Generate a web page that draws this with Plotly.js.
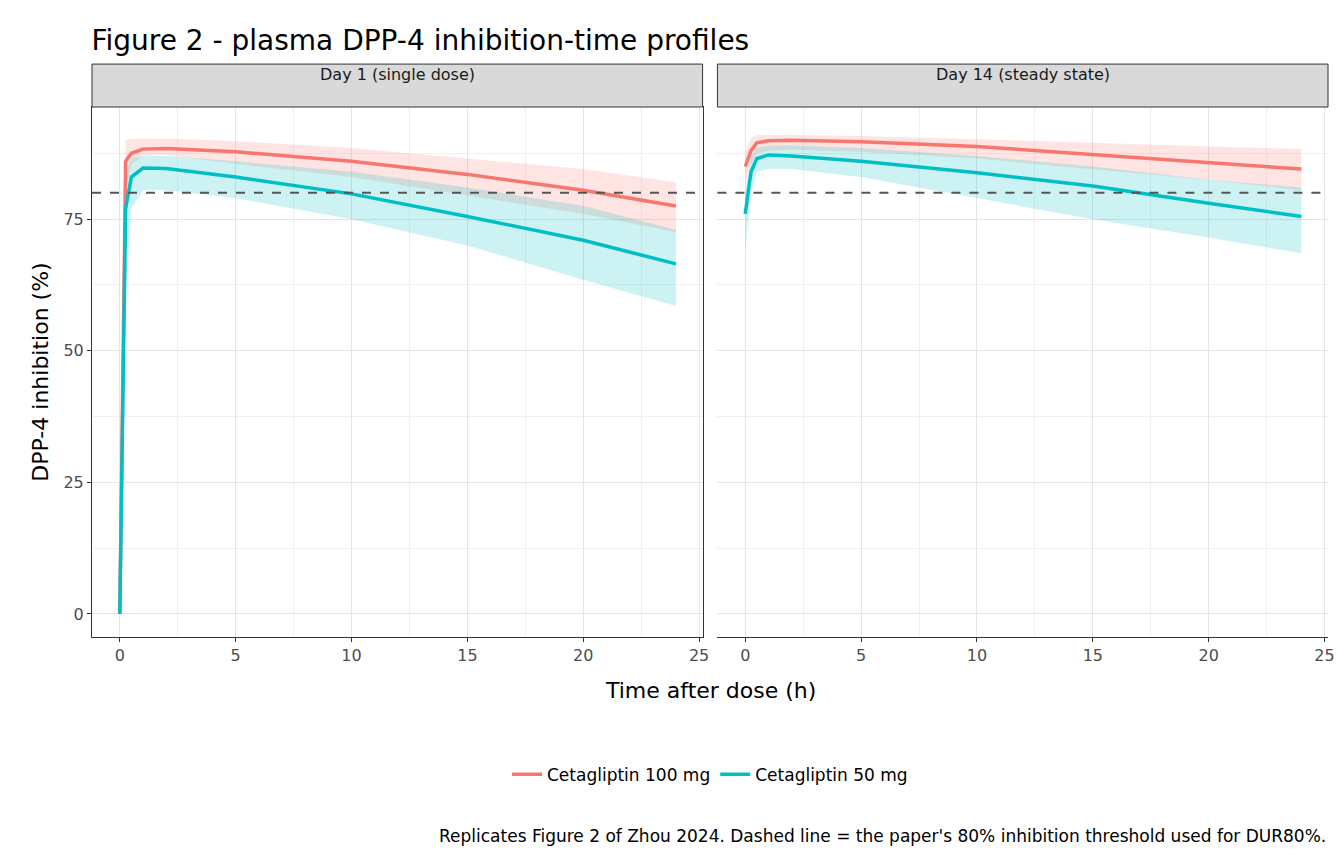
<!DOCTYPE html>
<html>
<head>
<meta charset="utf-8">
<script src="https://cdn.plot.ly/plotly-3.0.1.min.js"></script>
<style>body{margin:0;background:#fff}</style>
</head>
<body>
<div id="myPlot" style="width:1344px;height:864px"></div>
<script>
// time points (h)
const t1 = [0, 0.25, 0.5, 1, 2, 5, 10, 15, 20, 24];
const t14 = [0, 0.25, 0.5, 1, 2, 5, 10, 15, 20, 24];

// Day 1 (single dose)
const d1_100 = [0, 86, 87.5, 88.3, 88.4, 87.8, 86, 83.5, 80.5, 77.5];
const d1_100_lo = [0, 80, 85.5, 87, 87.2, 85.5, 83, 79.5, 76, 72.5];
const d1_100_hi = [0, 90, 90.2, 90.3, 90.3, 89.8, 88.5, 86.5, 84.5, 82];
const d1_50 = [0, 77, 83, 84.7, 84.6, 83, 79.8, 75.5, 71, 66.5];
const d1_50_lo = [0, 60, 77, 80.5, 80.5, 79, 75, 70, 63.5, 58.5];
const d1_50_hi = [0, 84, 86.5, 87, 87, 86, 84, 81, 77.5, 73];

// Day 14 (steady state)
const d14_100 = [85, 88, 89.5, 89.9, 90, 89.7, 88.8, 87.3, 85.8, 84.5];
const d14_100_lo = [82, 85.5, 87.5, 88, 88.2, 87.8, 86.5, 84.5, 82.5, 80.5];
const d14_100_hi = [87.5, 90.5, 91, 91, 91, 90.8, 90.2, 89.5, 88.8, 88.3];
const d14_50 = [76, 84, 86.5, 87.2, 87, 86, 83.8, 81.3, 78, 75.5];
const d14_50_lo = [69, 80, 84, 84.5, 84.5, 83, 79, 75, 71.5, 68.5];
const d14_50_hi = [80, 87, 88.5, 89, 89, 88.5, 87, 85, 82.5, 81];

const red = '#F8766D', cyan = '#00BFC4';

function band(x, lo, hi, col, xa, ya) {
  return [
    {x: x, y: lo, xaxis: xa, yaxis: ya, mode: 'lines', line: {width: 0}, showlegend: false, hoverinfo: 'skip'},
    {x: x, y: hi, xaxis: xa, yaxis: ya, mode: 'lines', line: {width: 0}, fill: 'tonexty', fillcolor: col, showlegend: false, hoverinfo: 'skip'}
  ];
}
function line(x, y, col, name, xa, ya, show) {
  return {x: x, y: y, xaxis: xa, yaxis: ya, mode: 'lines', line: {color: col, width: 3.5}, name: name, showlegend: show, legendgroup: name};
}

const data = [].concat(
  band(t1, d1_100_lo, d1_100_hi, 'rgba(248,118,109,0.2)', 'x', 'y'),
  band(t1, d1_50_lo, d1_50_hi, 'rgba(0,191,196,0.2)', 'x', 'y'),
  band(t14, d14_100_lo, d14_100_hi, 'rgba(248,118,109,0.2)', 'x2', 'y'),
  band(t14, d14_50_lo, d14_50_hi, 'rgba(0,191,196,0.2)', 'x2', 'y'),
  [line(t1, d1_100, red, 'Cetagliptin 100 mg', 'x', 'y', true),
   line(t1, d1_50, cyan, 'Cetagliptin 50 mg', 'x', 'y', true),
   line(t14, d14_100, red, 'Cetagliptin 100 mg', 'x2', 'y', false),
   line(t14, d14_50, cyan, 'Cetagliptin 50 mg', 'x2', 'y', false)]
);

const xax = {
  range: [-1.2, 25.15], tickvals: [0, 5, 10, 15, 20, 25], ticks: 'outside', ticklen: 4, tickcolor: '#333',
  gridcolor: '#E5E5E5', gridwidth: 1.4, zeroline: false, showline: true, linecolor: '#333', mirror: true,
  minor: {tickvals: [2.5, 7.5, 12.5, 17.5, 22.5], showgrid: true, gridcolor: '#F0F0F0', gridwidth: 0.8},
  tickfont: {size: 16, color: '#4D4D4D'}
};

const layout = {
  width: 1344, height: 864,
  margin: {l: 92, r: 16, t: 107, b: 227},
  paper_bgcolor: '#fff', plot_bgcolor: '#fff',
  font: {family: 'DejaVu Sans, sans-serif', color: '#000'},
  title: {text: 'Figure 2 - plasma DPP-4 inhibition-time profiles', x: 0.068, xanchor: 'left', y: 0.965, font: {size: 28}},
  xaxis: Object.assign({}, xax, {domain: [0, 0.494]}),
  xaxis2: Object.assign({}, xax, {domain: [0.506, 1]}),
  yaxis: {
    range: [-4.37, 96.3], tickvals: [0, 25, 50, 75], ticks: 'outside', ticklen: 4, tickcolor: '#333',
    gridcolor: '#E5E5E5', gridwidth: 1.4, zeroline: false, showline: true, linecolor: '#333', mirror: true,
    minor: {tickvals: [12.5, 37.5, 62.5, 87.5], showgrid: true, gridcolor: '#F0F0F0', gridwidth: 0.8},
    tickfont: {size: 16, color: '#4D4D4D'},
    title: {text: 'DPP-4 inhibition (%)', font: {size: 22}, standoff: 8}
  },
  shapes: [
    {type: 'line', xref: 'x domain', yref: 'y', x0: 0, x1: 1, y0: 80, y1: 80, line: {color: '#555', width: 2, dash: 'dash'}},
    {type: 'line', xref: 'x2 domain', yref: 'y', x0: 0, x1: 1, y0: 80, y1: 80, line: {color: '#555', width: 2, dash: 'dash'}},
    {type: 'rect', xref: 'x domain', yref: 'paper', x0: 0, x1: 1, y0: 1, y1: 1.081, fillcolor: '#D9D9D9', line: {color: '#333', width: 1}},
    {type: 'rect', xref: 'x2 domain', yref: 'paper', x0: 0, x1: 1, y0: 1, y1: 1.081, fillcolor: '#D9D9D9', line: {color: '#333', width: 1}}
  ],
  annotations: [
    {text: 'Day 1 (single dose)', xref: 'x domain', yref: 'paper', x: 0.5, y: 1.062, yanchor: 'middle', showarrow: false, font: {size: 16, color: '#1A1A1A'}},
    {text: 'Day 14 (steady state)', xref: 'x2 domain', yref: 'paper', x: 0.5, y: 1.062, yanchor: 'middle', showarrow: false, font: {size: 16, color: '#1A1A1A'}},
    {text: 'Time after dose (h)', xref: 'paper', yref: 'paper', x: 0.5, y: -0.1, yanchor: 'middle', showarrow: false, font: {size: 22}},
    {text: "Replicates Figure 2 of Zhou 2024. Dashed line = the paper's 80% inhibition threshold used for DUR80%.", xref: 'paper', yref: 'paper', x: 1, xanchor: 'right', y: -0.375, yanchor: 'middle', showarrow: false, font: {size: 17}}
  ],
  legend: {orientation: 'h', x: 0.5, xanchor: 'center', y: -0.26, yanchor: 'middle', font: {size: 17}}
};

Plotly.newPlot('myPlot', data, layout, {displayModeBar: false});
</script>
</body>
</html>
